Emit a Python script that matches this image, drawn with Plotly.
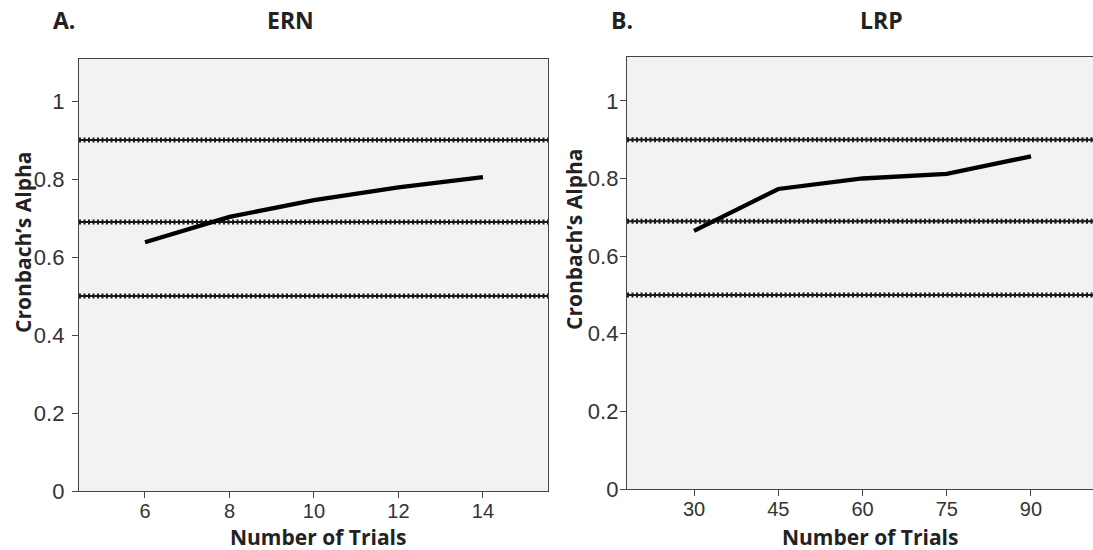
import plotly.graph_objects as go

# ---- data ----
ern_trials = [6, 8, 10, 12, 14]
ern_alpha = [0.638, 0.703, 0.746, 0.779, 0.805]
lrp_trials = [30, 45, 60, 75, 90]
lrp_alpha = [0.665, 0.773, 0.800, 0.812, 0.857]
ref_levels = [0.9, 0.69, 0.5]
y_ticks = [0, 0.2, 0.4, 0.6, 0.8, 1]
y_tick_labels = ["0", "0.2", "0.4", "0.6", "0.8", "1"]
panel_letters = ["A.", "B."]
panel_titles = ["ERN", "LRP"]
x_title = "Number of Trials"
y_title = "Cronbach’s Alpha"

W, H = 1093, 550          # target picture size (positions below are in these pixels)
HC = 563                  # canvas height (page capture is squeezed to 550 tall)
TITLE_FONT = "Open Sans"
TICK_FONT = "Liberation Sans, Arial, sans-serif"
AX_COL = "#444444"


def px(x):
    return x / W


def py(y):
    return 1 - y / H


fig = go.Figure()
fig.add_trace(go.Scatter(x=ern_trials, y=ern_alpha, mode="lines",
                         line=dict(color="black", width=4.3),
                         xaxis="x", yaxis="y", showlegend=False, hoverinfo="skip"))
fig.add_trace(go.Scatter(x=lrp_trials, y=lrp_alpha, mode="lines",
                         line=dict(color="black", width=4.3),
                         xaxis="x2", yaxis="y2", showlegend=False, hoverinfo="skip"))

shapes = []
for xr, yr in (("x domain", "y"), ("x2 domain", "y2")):
    for lv in ref_levels:
        shapes.append(dict(type="line", xref=xr, yref=yr, x0=0, x1=1, y0=lv, y1=lv,
                           layer="below", line=dict(color="#1a1a1a", width=2)))
        shapes.append(dict(type="line", xref=xr, yref=yr, x0=0, x1=1, y0=lv, y1=lv,
                           layer="below", line=dict(color="#1a1a1a", width=5, dash="2px,2.5px")))

common_x = dict(ticks="outside", ticklen=6, tickcolor=AX_COL, tickwidth=1.3,
                showline=True, linecolor=AX_COL, linewidth=1.3, mirror=True,
                showgrid=False, zeroline=False, ticklabelstandoff=-4,
                tickfont=dict(family=TICK_FONT, size=20, color="#333333"))
common_y = dict(ticks="outside", ticklen=6, tickcolor=AX_COL, tickwidth=1.3,
                showline=True, linecolor=AX_COL, linewidth=1.3,
                showgrid=False, zeroline=False,
                tickvals=y_ticks, ticktext=y_tick_labels,
                tickfont=dict(family=TICK_FONT, size=22, color="#333333"))

fig.update_layout(
    width=W, height=HC,
    margin=dict(l=0, r=0, t=0, b=0),
    paper_bgcolor="white", plot_bgcolor="#f2f2f2",
    showlegend=False,
    shapes=shapes,
    xaxis=dict(domain=[px(79), px(548)], range=[4.438, 15.54], tickvals=ern_trials,
               anchor="y", **common_x),
    yaxis=dict(domain=[py(491), py(59)], range=[0, 1.108], anchor="x", mirror=True,
               ticklabelstandoff=3, **common_y),
    xaxis2=dict(domain=[px(627), 1.0], range=[18.07, 101.04], tickvals=lrp_trials,
                anchor="y2", **common_x),
    yaxis2=dict(domain=[py(489), py(57)], range=[0, 1.113], anchor="x2", mirror=False,
                ticklabelstandoff=-3, **common_y),
)

ann = []
title_font = dict(family=TITLE_FONT, size=23, color="#222222")
for letter, lx, title, tx in zip(panel_letters, [64, 622], panel_titles, [290, 881]):
    ann.append(dict(text="<b>%s</b>" % letter, x=px(lx), y=py(20), xref="paper", yref="paper",
                    showarrow=False, xanchor="center", yanchor="middle", font=title_font))
    ann.append(dict(text="<b>%s</b>" % title, x=px(tx), y=py(20), xref="paper", yref="paper",
                    showarrow=False, xanchor="center", yanchor="middle", font=title_font))
axis_font = dict(family=TITLE_FONT, size=21, color="#222222")
for xx in (318, 870):
    ann.append(dict(text="<b>%s</b>" % x_title, x=px(xx), y=py(537), xref="paper", yref="paper",
                    showarrow=False, xanchor="center", yanchor="middle", font=axis_font))
for xx, yy in ((23, 243), (574, 240)):
    ann.append(dict(text="<b>%s</b>" % y_title, x=px(xx), y=py(yy), xref="paper", yref="paper",
                    showarrow=False, xanchor="center", yanchor="middle", textangle=-90,
                    font=axis_font))
fig.update_layout(annotations=ann)

post = (
    "var s=document.createElement('style');"
    "s.textContent='html,body{margin:0;padding:0;overflow:hidden;}';"
    "document.head.appendChild(s);"
)
fig.write_html("out.html", config={"displayModeBar": False}, post_script=post)
